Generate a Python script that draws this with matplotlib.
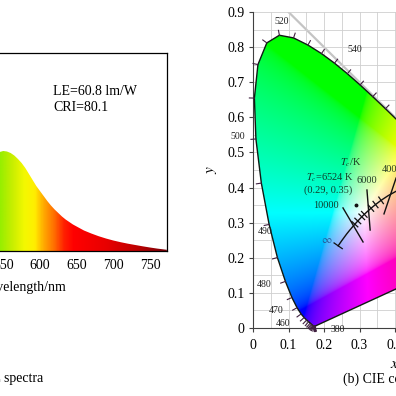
import numpy as np
import matplotlib.pyplot as plt
from matplotlib.colors import LinearSegmentedColormap
from matplotlib.patches import Polygon

plt.rcParams['font.family'] = ['Liberation Serif', 'DejaVu Serif']
plt.rcParams['mathtext.fontset'] = 'stix'

# ---- (a) EL spectrum (normalised intensity) ----
wavelength = [545, 550, 555, 560, 565, 570, 575, 580, 585, 590, 595, 600, 605, 610, 615,
              620, 625, 630, 635, 640, 645, 650, 660, 670, 680, 690, 700, 710, 720, 730,
              740, 750, 760, 773]
intensity = [0.99, 1.00, 0.995, 0.98, 0.955, 0.92, 0.88, 0.83, 0.77, 0.71, 0.65, 0.60,
             0.55, 0.50, 0.455, 0.415, 0.38, 0.345, 0.315, 0.29, 0.265, 0.245, 0.205,
             0.175, 0.148, 0.125, 0.105, 0.088, 0.073, 0.06, 0.047, 0.035, 0.024, 0.012]
wl_ticks = [400, 450, 500, 550, 600, 650, 700, 750]
LE = 60.8
CRI = 80.1

# ---- (b) CIE 1931 spectral locus ----
locus_nm = [380, 385, 390, 395, 400, 405, 410, 415, 420, 425, 430, 435, 440, 445, 450,
            455, 460, 465, 470, 475, 480, 485, 490, 495, 500, 505, 510, 515, 520, 525,
            530, 535, 540, 545, 550, 555, 560, 565, 570, 575, 580, 585, 590, 595, 600,
            605, 610, 615, 620, 625, 630, 635, 640, 645, 650, 655, 660, 665, 670, 680,
            690, 700]
locus_x = [0.1741, 0.1740, 0.1738, 0.1736, 0.1733, 0.1730, 0.1726, 0.1721, 0.1714, 0.1703,
           0.1689, 0.1669, 0.1644, 0.1611, 0.1566, 0.1510, 0.1440, 0.1355, 0.1241, 0.1096,
           0.0913, 0.0687, 0.0454, 0.0235, 0.0082, 0.0039, 0.0139, 0.0389, 0.0743, 0.1142,
           0.1547, 0.1929, 0.2296, 0.2658, 0.3016, 0.3373, 0.3731, 0.4087, 0.4441, 0.4788,
           0.5125, 0.5448, 0.5752, 0.6029, 0.6270, 0.6482, 0.6658, 0.6801, 0.6915, 0.7006,
           0.7079, 0.7140, 0.7190, 0.7230, 0.7260, 0.7283, 0.7300, 0.7311, 0.7320, 0.7334,
           0.7344, 0.7347]
locus_y = [0.0050, 0.0050, 0.0049, 0.0049, 0.0048, 0.0048, 0.0048, 0.0048, 0.0051, 0.0058,
           0.0069, 0.0086, 0.0109, 0.0138, 0.0177, 0.0227, 0.0297, 0.0399, 0.0578, 0.0868,
           0.1327, 0.2007, 0.2950, 0.4127, 0.5384, 0.6548, 0.7502, 0.8120, 0.8338, 0.8262,
           0.8059, 0.7816, 0.7543, 0.7243, 0.6923, 0.6589, 0.6245, 0.5896, 0.5547, 0.5202,
           0.4866, 0.4544, 0.4242, 0.3965, 0.3725, 0.3514, 0.3340, 0.3197, 0.3083, 0.2993,
           0.2920, 0.2859, 0.2809, 0.2770, 0.2740, 0.2717, 0.2700, 0.2689, 0.2680, 0.2666,
           0.2656, 0.2653]
# labelled wavelengths and label offsets (points)
label_nm = [380, 460, 470, 480, 490, 500, 520, 540, 560]
label_off = [(11, -2), (-10, -4), (-10, -2), (-10, -2), (-3, -5), (-8, 2), (2, 10), (9, 10), (8, 9)]

# Planckian locus
planck_T = [1000, 1500, 2000, 2500, 3000, 3500, 4000, 4500, 5000, 5500, 6000, 6500,
            7000, 8000, 9000, 10000, 12000, 15000, 20000, 30000, np.inf]
planck_x = [0.6528, 0.5857, 0.5267, 0.4770, 0.4369, 0.4053, 0.3805, 0.3608, 0.3451, 0.3325,
            0.3221, 0.3135, 0.3064, 0.2952, 0.2869, 0.2807, 0.2719, 0.2637, 0.2565, 0.2501,
            0.2399]
planck_y = [0.3444, 0.3931, 0.4133, 0.4137, 0.4041, 0.3907, 0.3768, 0.3636, 0.3516, 0.3411,
            0.3318, 0.3237, 0.3166, 0.3048, 0.2956, 0.2884, 0.2779, 0.2676, 0.2577, 0.2489,
            0.2341]
minor_T = [4500, 5000, 5500, 6500, 7000, 8000, 9000]
# long isotherms: temperature, end points
iso_T = ['10000', '6000', '4000']
iso_x = [(0.2535, 0.310), (0.321, 0.330), (0.403, 0.369)]
iso_y = [(0.342, 0.245), (0.393, 0.279), (0.427, 0.325)]
tc_x, tc_y = 0.29, 0.35
tc_value = 6524

fig = plt.figure(figsize=(3.96, 3.96), dpi=100)
W = H = 396.0

# ================= (a) =================
xl = (380, 773)
pxnm = 0.7333
left_px = 3.3 - (550 - xl[0]) * pxnm
ax1 = fig.add_axes([left_px / W, 1 - 251 / H, (xl[1] - xl[0]) * pxnm / W, 198 / H])
ax1.set_xlim(*xl)
ax1.set_ylim(0, 1.98)

stops = [(380, '#7000a0'), (540, '#88ee00'), (560, '#c4ee00'), (578, '#f4f800'),
         (592, '#ffee00'), (603, '#ffb000'), (618, '#ff7000'), (632, '#ff2000'),
         (645, '#ff0000'), (690, '#e80000'), (730, '#c00000'), (773, '#780008')]
cmap = LinearSegmentedColormap.from_list(
    'spec', [((w - xl[0]) / (xl[1] - xl[0]), c) for w, c in stops])
grad = np.linspace(0, 1, 600)[None, :]
im = ax1.imshow(grad, cmap=cmap, extent=[xl[0], xl[1], 0, 1.98], aspect='auto',
                origin='lower', interpolation='bilinear')
verts = [(wavelength[0], 0)] + list(zip(wavelength, intensity)) + [(wavelength[-1], 0)]
clip = Polygon(verts, closed=True, facecolor='none', edgecolor='none')
ax1.add_patch(clip)
im.set_clip_path(clip)

ax1.set_xticks(wl_ticks)
ax1.set_yticks([])
ax1.tick_params(axis='x', length=0, pad=6, labelsize=10)
ax1.set_xlabel('Wavelength/nm', fontsize=10, labelpad=6)
for s in ax1.spines.values():
    s.set_linewidth(0.9)
ax1.text(0.605, 0.79, f'LE={LE} lm/W', transform=ax1.transAxes, fontsize=10)
ax1.text(0.605, 0.705, f'CRI={CRI}', transform=ax1.transAxes, fontsize=10)
fig.text(43 / W, 1 - 378 / H, '(a) EL spectra', ha='right', va='center', fontsize=10)

# ================= (b) =================
ax2 = fig.add_axes([253 / W, 1 - 328 / H, 284 / W, 316 / H])
ax2.set_xlim(0, 0.8)
ax2.set_ylim(0, 0.9)

gx, gy = np.meshgrid(np.linspace(0, 0.8, 400), np.linspace(0.0005, 0.9, 450))
XYZ = np.stack([gx / gy, np.ones_like(gx), (1 - gx - gy) / gy], axis=-1)
M = np.array([[3.2406, -1.5372, -0.4986],
              [-0.9689, 1.8758, 0.0415],
              [0.0557, -0.2040, 1.0570]])
rgb = np.clip(XYZ @ M.T, 0, None)
rgb = rgb / rgb.max(axis=-1, keepdims=True)
rgb = np.where(rgb <= 0.0031308, 12.92 * rgb, 1.055 * rgb ** (1 / 2.4) - 0.055)
rgb = np.clip(rgb, 0, 1)
img = ax2.imshow(rgb, origin='lower', extent=[0, 0.8, 0, 0.9], aspect='auto',
                 interpolation='bilinear', zorder=1)
horse = Polygon(np.column_stack([locus_x, locus_y]), closed=True, facecolor='none',
                edgecolor='#101a14', lw=1.0, zorder=3)
ax2.add_patch(horse)
img.set_clip_path(horse)

# x + y = 1 boundary
ax2.plot([0.1, 0.8], [0.9, 0.2], color='#c4c4c4', lw=1.6, zorder=0.5)

ax2.set_xticks(np.arange(0, 0.81, 0.1))
ax2.set_yticks(np.arange(0, 0.91, 0.1))
ax2.set_xticklabels(['0'] + [f'{v:.1f}' for v in np.arange(0.1, 0.81, 0.1)])
ax2.set_yticklabels(['0'] + [f'{v:.1f}' for v in np.arange(0.1, 0.91, 0.1)])
ax2.set_xticks(np.arange(0, 0.81, 0.05), minor=True)
ax2.set_yticks(np.arange(0, 0.91, 0.05), minor=True)
ax2.grid(True, which='both', color='#cfcfcf', lw=0.6)
ax2.set_axisbelow(True)
ax2.tick_params(which='major', direction='out', length=3, width=0.8, labelsize=10,
                color='#404040')
ax2.tick_params(axis='y', pad=3)
ax2.tick_params(axis='x', pad=5)
ax2.tick_params(which='minor', length=0)
for side in ['top', 'right']:
    ax2.spines[side].set_visible(False)
for side in ['left', 'bottom']:
    ax2.spines[side].set_color('#404040')
    ax2.spines[side].set_linewidth(0.8)
ax2.set_xlabel('$x$', fontsize=11, labelpad=4)
ax2.set_ylabel('$y$', fontsize=11, labelpad=6, rotation=90)
fig.text(343 / W, 1 - 379 / H, '(b) CIE coordinates', ha='left', va='center', fontsize=10)

# wavelength ticks (outward, display space)
fig.canvas.draw()
to_disp = ax2.transData.transform
to_data = ax2.transData.inverted().transform
P = to_disp(np.column_stack([locus_x, locus_y]))
for i, nm in enumerate(locus_nm):
    if nm > 600:
        continue
    a = P[max(i - 1, 0)]
    b = P[min(i + 1, len(P) - 1)]
    t = (b - a) / np.hypot(*(b - a))
    n = np.array([-t[1], t[0]])
    seg = to_data(np.array([P[i], P[i] + n * 5]))
    ax2.plot(seg[:, 0], seg[:, 1], color='#402040', lw=0.8, zorder=4, clip_on=False)

for nm, off in zip(label_nm, label_off):
    i = locus_nm.index(nm)
    ha = 'left' if off[0] > 4 else ('right' if off[0] < -4 else 'center')
    ax2.annotate(str(nm), (locus_x[i], locus_y[i]), xytext=off, textcoords='offset points',
                 fontsize=7, ha=ha, va='center', color='#202020', zorder=5,
                 annotation_clip=False)

# Planckian locus and isotherms
ax2.plot(planck_x, planck_y, color='#111111', lw=1.0, zorder=4)
Q = to_disp(np.column_stack([planck_x, planck_y]))
for T in minor_T + [np.inf]:
    i = planck_T.index(T)
    a = Q[max(i - 1, 0)]
    b = Q[min(i + 1, len(Q) - 1)]
    t = (b - a) / np.hypot(*(b - a))
    n = np.array([-t[1], t[0]])
    half = 5 if T == np.inf else 4
    seg = to_data(np.array([Q[i] - n * half, Q[i] + n * half]))
    ax2.plot(seg[:, 0], seg[:, 1], color='#111111', lw=0.9, zorder=4)

iso_off = [(-3, 2), (0, 7), (-3, 6)]
for lab, xs, ys, off in zip(iso_T, iso_x, iso_y, iso_off):
    ax2.plot(xs, ys, color='#111111', lw=1.0, zorder=4)
    ax2.annotate(lab, (xs[0], ys[0]), xytext=off, textcoords='offset points', fontsize=7.5,
                 ha='right' if lab == '10000' else 'center', va='center',
                 color='#102818', alpha=0.9, zorder=5)
ax2.annotate(r'$\infty$', (planck_x[-1], planck_y[-1]), xytext=(-8, 4),
             textcoords='offset points', fontsize=8, ha='center', va='center',
             color='#2a5a9a', zorder=5)

ax2.plot([tc_x], [tc_y], 'o', ms=1.8, color='#111111', zorder=5)
ax2.text(0.276, 0.470, r'$T_c$/K', fontsize=7.5, ha='center', va='center',
         color='#102818', alpha=0.9, zorder=5)
ax2.text(0.217, 0.427, f'$T_c$={tc_value} K', fontsize=7.5, ha='center', va='center',
         color='#102818', alpha=0.9, zorder=5)
ax2.text(0.213, 0.393, f'({tc_x}, {tc_y})', fontsize=7.5, ha='center', va='center',
         color='#102818', alpha=0.9, zorder=5)

fig.savefig('out.png', dpi=100)
